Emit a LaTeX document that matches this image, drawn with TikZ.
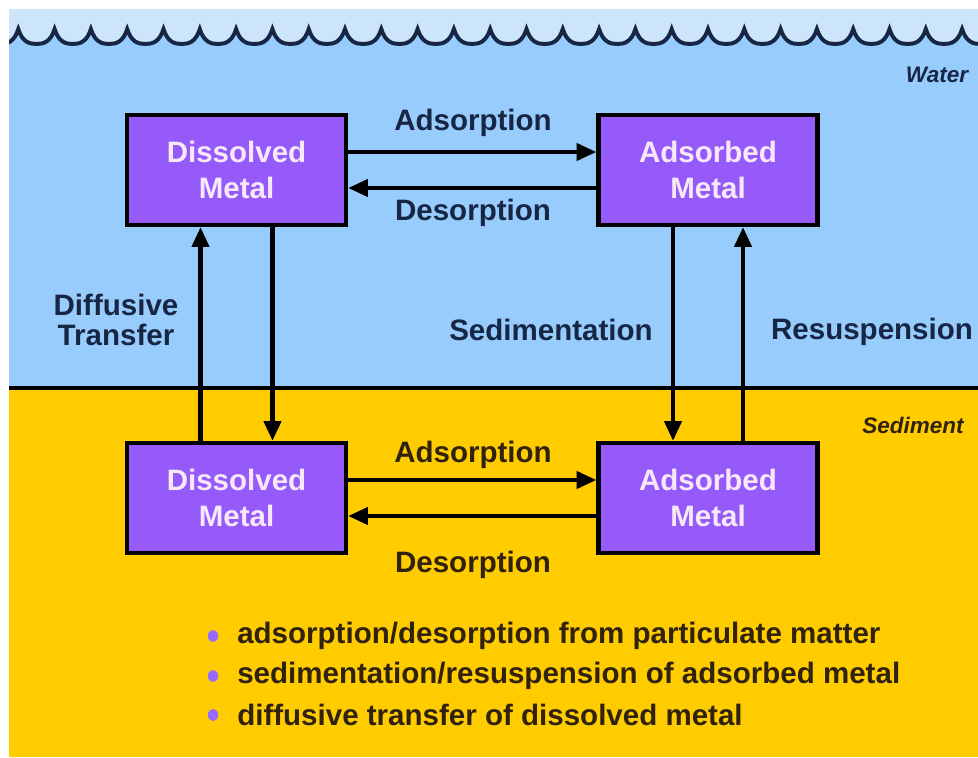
\documentclass[tikz,border=0pt]{standalone}
\usepackage{fontspec}
\setmainfont{Liberation Sans}
\usepackage{tikz}
\usetikzlibrary{calc, arrows.meta, positioning, shapes.geometric}
\usepackage{xcolor}
\definecolor{skytop}{RGB}{205,229,250}
\definecolor{water}{RGB}{152,204,252}
\definecolor{sediment}{RGB}{255,204,0}
\definecolor{metalfill}{RGB}{150,90,250}
\definecolor{metaltext}{RGB}{247,232,247}
\definecolor{navy}{RGB}{22,38,68}
\definecolor{mud}{RGB}{48,34,14}
\definecolor{dotpurple}{RGB}{150,105,255}

\begin{document}
\begin{tikzpicture}[x=0.025cm, y=-0.025cm,
    metal/.style={draw=black, line width=3pt, fill=metalfill,
                  minimum width=5.475cm, minimum height=2.75cm,
                  font=\fontsize{21}{25}\selectfont\bfseries,
                  text=metaltext, align=center},
    wlabel/.style={font=\fontsize{21}{21}\selectfont\bfseries, text=navy, align=center},
    slabel/.style={font=\fontsize{21}{21}\selectfont\bfseries, text=mud, align=center},
    zone/.style={font=\fontsize{16}{16}\selectfont\bfseries\itshape},
    item/.style={font=\fontsize{21}{21}\selectfont\bfseries, text=mud,
                 anchor=west, inner sep=0pt},
    dot/.style={ellipse, fill=dotpurple, minimum width=0.26cm,
                minimum height=0.3cm, inner sep=0pt},
    arr/.style={-{Triangle[length=14pt, width=12pt]}, line width=3pt}
  ]
    \useasboundingbox (0,0) rectangle (978,757);
    \fill[white] (0,0) rectangle (978,757);

    % water and sediment
    \begin{scope}
      \clip (9,9) rectangle (978,757);
      \fill[water] (9,9) rectangle (978,388);
      \fill[sediment] (9,388) rectangle (978,757);
      \fill[skytop] (-18,0) -- (-18,29)
        \foreach \k [evaluate=\k as \c using 18.3+36.3*\k] in {-1,...,26}
          { .. controls (\c+4,42) and (\c+11,44) .. (\c+18.15,44)
            .. controls (\c+25.3,44) and (\c+32.3,42) .. (\c+36.3,29) }
        -- (1000,0) -- cycle;
      \draw[navy, line width=2.8pt] (-18,29)
        \foreach \k [evaluate=\k as \c using 18.3+36.3*\k] in {-1,...,26}
          { .. controls (\c+4,42) and (\c+11,44) .. (\c+18.15,44)
            .. controls (\c+25.3,44) and (\c+32.3,42) .. (\c+36.3,29) };
    \end{scope}
    \draw[line width=3pt] (9,388) -- (978,388);

    \node[zone, text=navy] (water) at (937,75) {Water};
    \node[zone, text=mud]  (sed)   at (913,425) {Sediment};

    \node[metal] (dw) at (236.5,170) {Dissolved\\Metal};
    \node[metal] (aw) at (708,170)   {Adsorbed\\Metal};
    \node[metal] (ds) at (236.5,498) {Dissolved\\Metal};
    \node[metal] (as) at (708,498)   {Adsorbed\\Metal};

    \node[wlabel] (adsw) at (473,123) {Adsorption};
    \node[wlabel] (desw) at (473,213) {Desorption};
    \node[slabel] (adss) at (473,455) {Adsorption};
    \node[slabel] (dess) at (473,565) {Desorption};
    \node[wlabel] (diff) at (116,320) {Diffusive\\Transfer};
    \node[wlabel] (sedi) at (551,330) {Sedimentation};
    \node[wlabel] (resu) at (872,332) {Resuspension};

    \draw[arr] ($(dw.east)+(0,-18)$) -- ($(aw.west)+(0,-18)$);
    \draw[arr] ($(aw.west)+(0,18)$)  -- ($(dw.east)+(0,18)$);
    \draw[arr] ($(ds.east)+(0,-18)$) -- ($(as.west)+(0,-18)$);
    \draw[arr] ($(as.west)+(0,18)$)  -- ($(ds.east)+(0,18)$);
    \draw[arr] ($(ds.north)+(-36,0)$) -- ($(dw.south)+(-36,0)$);
    \draw[arr] ($(dw.south)+(36,0)$)  -- ($(ds.north)+(36,0)$);
    \draw[arr] ($(aw.south)+(-35,0)$) -- ($(as.north)+(-35,0)$);
    \draw[arr] ($(as.north)+(35,0)$)  -- ($(aw.south)+(35,0)$);

    \node[dot]  (d1) at (213,636) {};
    \node[dot]  (d2) at (213,676) {};
    \node[dot]  (d3) at (213,715) {};
    \node[item] (i1) at (237,636) {adsorption/desorption from particulate matter};
    \node[item] (i2) at (237,676) {sedimentation/resuspension of adsorbed metal};
    \node[item] (i3) at (237,715) {diffusive transfer of dissolved metal};
  \end{tikzpicture}
\end{document}
